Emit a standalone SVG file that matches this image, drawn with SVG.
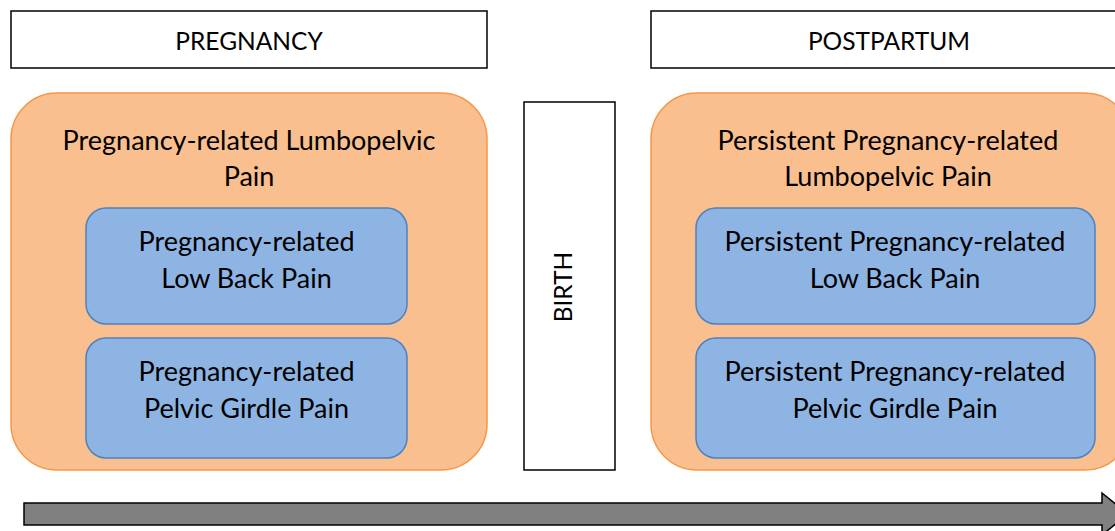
<svg xmlns="http://www.w3.org/2000/svg" width="1115" height="531" viewBox="0 0 1115 531">
  <style>
    text { font-family: "Lato", "Open Sans", "Liberation Sans", sans-serif; fill: #000; text-anchor: middle; }
    .label { font-size: 24.5px; }
    .big { font-size: 27px; }
    .phase { fill: #fff; stroke: #000; stroke-width: 1.5; }
    .group { fill: #F9BF8F; stroke: #F79646; stroke-width: 1.5; }
    .sub { fill: #8EB4E3; stroke: #4F81BD; stroke-width: 1.5; }
    .timeline { fill: #808080; stroke: #000; stroke-width: 1.5; }
  </style>

  <!-- phase headers -->
  <g id="pregnancy-header">
    <rect class="phase" x="11" y="11" width="476" height="57"/>
    <text class="label" x="249" y="50">PREGNANCY</text>
  </g>
  <g id="postpartum-header">
    <rect class="phase" x="651" y="11" width="480" height="57"/>
    <text class="label" x="889" y="50">POSTPARTUM</text>
  </g>

  <!-- pregnancy side -->
  <g id="pregnancy-lumbopelvic">
    <rect class="group" x="11" y="93" width="476" height="377" rx="46" ry="46"/>
    <text class="big" x="249" y="150">Pregnancy-related Lumbopelvic</text>
    <text class="big" x="249" y="186">Pain</text>
  </g>
  <g id="pregnancy-lbp">
    <rect class="sub" x="86" y="208" width="321" height="116" rx="20" ry="20"/>
    <text class="big" x="246.5" y="251">Pregnancy-related</text>
    <text class="big" x="246.5" y="288">Low Back Pain</text>
  </g>
  <g id="pregnancy-pgp">
    <rect class="sub" x="86" y="338" width="321" height="120" rx="20" ry="20"/>
    <text class="big" x="246.5" y="381">Pregnancy-related</text>
    <text class="big" x="246.5" y="418">Pelvic Girdle Pain</text>
  </g>

  <!-- birth divider -->
  <g id="birth">
    <rect class="phase" x="524" y="102" width="91" height="368"/>
    <text class="label" transform="translate(572 287) rotate(-90)">BIRTH</text>
  </g>

  <!-- postpartum side -->
  <g id="persistent-lumbopelvic">
    <rect class="group" x="651" y="93" width="480" height="377" rx="46" ry="46"/>
    <text class="big" x="888" y="150">Persistent Pregnancy-related</text>
    <text class="big" x="888" y="186">Lumbopelvic Pain</text>
  </g>
  <g id="persistent-lbp">
    <rect class="sub" x="696" y="208" width="399" height="116" rx="20" ry="20"/>
    <text class="big" x="895" y="251">Persistent Pregnancy-related</text>
    <text class="big" x="895" y="288">Low Back Pain</text>
  </g>
  <g id="persistent-pgp">
    <rect class="sub" x="696" y="338" width="399" height="120" rx="20" ry="20"/>
    <text class="big" x="895" y="381">Persistent Pregnancy-related</text>
    <text class="big" x="895" y="418">Pelvic Girdle Pain</text>
  </g>

  <!-- time arrow -->
  <g id="connectors">
    <path class="timeline" d="M24 503 H1102 V493 L1128 514 L1102 535 V525 H24 Z"/>
  </g>
</svg>
